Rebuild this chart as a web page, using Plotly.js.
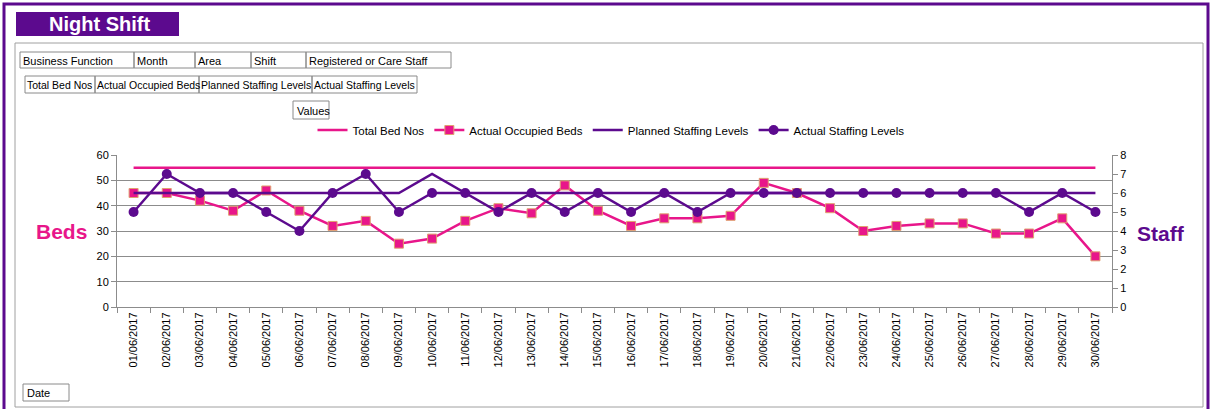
<!DOCTYPE html>
<html>
<head>
<meta charset="utf-8">
<script src="https://cdn.plot.ly/plotly-3.0.1.min.js"></script>
<style>html,body{margin:0;padding:0;background:#fff;}#chart{width:1213px;height:409px;}</style>
</head>
<body>
<div id="chart"></div>
<script>
// ---- data ----
const dates = ["01/06/2017","02/06/2017","03/06/2017","04/06/2017","05/06/2017","06/06/2017","07/06/2017","08/06/2017","09/06/2017","10/06/2017",
  "11/06/2017","12/06/2017","13/06/2017","14/06/2017","15/06/2017","16/06/2017","17/06/2017","18/06/2017","19/06/2017","20/06/2017",
  "21/06/2017","22/06/2017","23/06/2017","24/06/2017","25/06/2017","26/06/2017","27/06/2017","28/06/2017","29/06/2017","30/06/2017"];
const totalBedNos = [55,55,55,55,55,55,55,55,55,55,55,55,55,55,55,55,55,55,55,55,55,55,55,55,55,55,55,55,55,55];
const actualOccupiedBeds = [45,45,42,38,46,38,32,34,25,27,34,39,37,48,38,32,35,35,36,49,45,39,30,32,33,33,29,29,35,20];
const plannedStaffing = [6,6,6,6,6,6,6,6,6,7,6,6,6,6,6,6,6,6,6,6,6,6,6,6,6,6,6,6,6,6];
const actualStaffing = [5,7,6,6,5,4,6,7,5,6,6,5,6,5,6,5,6,5,6,6,6,6,6,6,6,6,6,5,6,5];
const fieldRow1 = ["Business Function","Month","Area","Shift","Registered or Care Staff"];
const fieldRow2 = ["Total Bed Nos","Actual Occupied Beds","Planned Staffing Levels","Actual Staffing Levels"];

// ---- style ----
const W = 1213, H = 409;
const PINK = "#e8168a", PURPLE = "#5c0a8e", GRID = "#8c8c8c";
const FONT = "Liberation Sans, Arial, sans-serif";
const px = x => x / W;
const py = y => 1 - y / H;

const traces = [
  {x: dates, y: totalBedNos, name: "Total Bed Nos", type: "scatter", mode: "lines",
   line: {color: PINK, width: 2.5}},
  {x: dates, y: actualOccupiedBeds, name: "Actual Occupied Beds", type: "scatter", mode: "lines+markers",
   line: {color: PINK, width: 2.5}, marker: {symbol: "square", size: 9, color: PINK, line: {color: "#e0a070", width: 1}}},
  {x: dates, y: plannedStaffing, name: "Planned Staffing Levels", type: "scatter", mode: "lines", yaxis: "y2",
   line: {color: PURPLE, width: 2.5}},
  {x: dates, y: actualStaffing, name: "Actual Staffing Levels", type: "scatter", mode: "lines+markers", yaxis: "y2",
   line: {color: PURPLE, width: 2.5}, marker: {symbol: "circle", size: 10, color: PURPLE}}
];

const shapes = [];
const annotations = [];
function box(x0, y0, x1, y1, opts) {
  shapes.push(Object.assign({type: "rect", xref: "paper", yref: "paper",
    x0: px(x0), x1: px(x1), y0: py(y1), y1: py(y0), line: {color: "#8a8a8a", width: 1}, fillcolor: "rgba(0,0,0,0)", layer: "below"}, opts || {}));
}
function label(text, x, y, opts) {
  annotations.push(Object.assign({text: text, xref: "paper", yref: "paper", x: px(x), y: py(y),
    xanchor: "left", yanchor: "middle", showarrow: false, font: {family: FONT, size: 11, color: "#000"}}, opts || {}));
}

// outer purple frame
box(4, 4, 1208, 412, {line: {color: PURPLE, width: 3}});
// inner gray frame
box(15, 43, 1203, 407, {line: {color: "#a0a0a0", width: 1}});
// Night Shift header
box(16, 12, 179, 36, {fillcolor: PURPLE, line: {color: PURPLE, width: 0}});
label("<b>Night Shift</b>", 99, 24, {xanchor: "center", font: {family: FONT, size: 20, color: "#fff"}});

// field buttons row 1
const r1 = [[20,134],[134,195],[195,251],[251,306],[306,451]];
fieldRow1.forEach((t, i) => { box(r1[i][0], 52, r1[i][1], 68); label(t, r1[i][0] + 1, 61); });
// row 2
const r2 = [[25,95],[95,199],[199,312],[312,417]];
fieldRow2.forEach((t, i) => { box(r2[i][0], 76, r2[i][1], 93); label(t, r2[i][0], 85, {font: {family: FONT, size: 10.5, color: "#000"}}); });
// Values & Date
box(293, 101, 329, 119); label("Values", 295, 111);
box(23, 384, 69, 401); label("Date", 25, 393);

// axis titles
label("<b>Beds</b>", 61, 232, {xanchor: "center", font: {family: FONT, size: 21, color: PINK}});
label("<b>Staff</b>", 1161, 233, {xanchor: "center", font: {family: FONT, size: 21, color: PURPLE}});

const layout = {
  width: W, height: H,
  margin: {l: 0, r: 0, t: 0, b: 0},
  paper_bgcolor: "#fff", plot_bgcolor: "rgba(0,0,0,0)",
  font: {family: FONT, size: 11, color: "#000"},
  showlegend: true,
  legend: {orientation: "h", x: px(611), xanchor: "center", y: py(130), yanchor: "middle",
    font: {family: FONT, size: 11.5, color: "#000"}, bgcolor: "rgba(0,0,0,0)", itemwidth: 30, tracegroupgap: 0},
  xaxis: {domain: [px(117), px(1112)], type: "category", range: [-0.5, 29.5], tickson: "boundaries",
    ticks: "outside", ticklen: 5, tickcolor: GRID, showline: true, linecolor: GRID, linewidth: 1,
    showgrid: false, tickangle: -90, tickfont: {family: FONT, size: 11, color: "#000"}, fixedrange: true},
  yaxis: {domain: [py(307), py(155)], range: [0, 60], dtick: 10, ticks: "outside", ticklen: 5, tickcolor: GRID,
    showline: true, linecolor: GRID, showgrid: true, gridcolor: GRID, gridwidth: 1, zeroline: false,
    tickfont: {family: FONT, size: 11, color: "#000"}, fixedrange: true},
  yaxis2: {overlaying: "y", side: "right", anchor: "x", range: [0, 8], dtick: 1, ticks: "outside", ticklen: 5,
    tickcolor: GRID, showline: true, linecolor: GRID, showgrid: false, zeroline: false,
    tickfont: {family: FONT, size: 11, color: "#000"}, fixedrange: true},
  shapes: shapes,
  annotations: annotations
};

Plotly.newPlot("chart", traces, layout, {displayModeBar: false, staticPlot: true});
</script>
</body>
</html>
